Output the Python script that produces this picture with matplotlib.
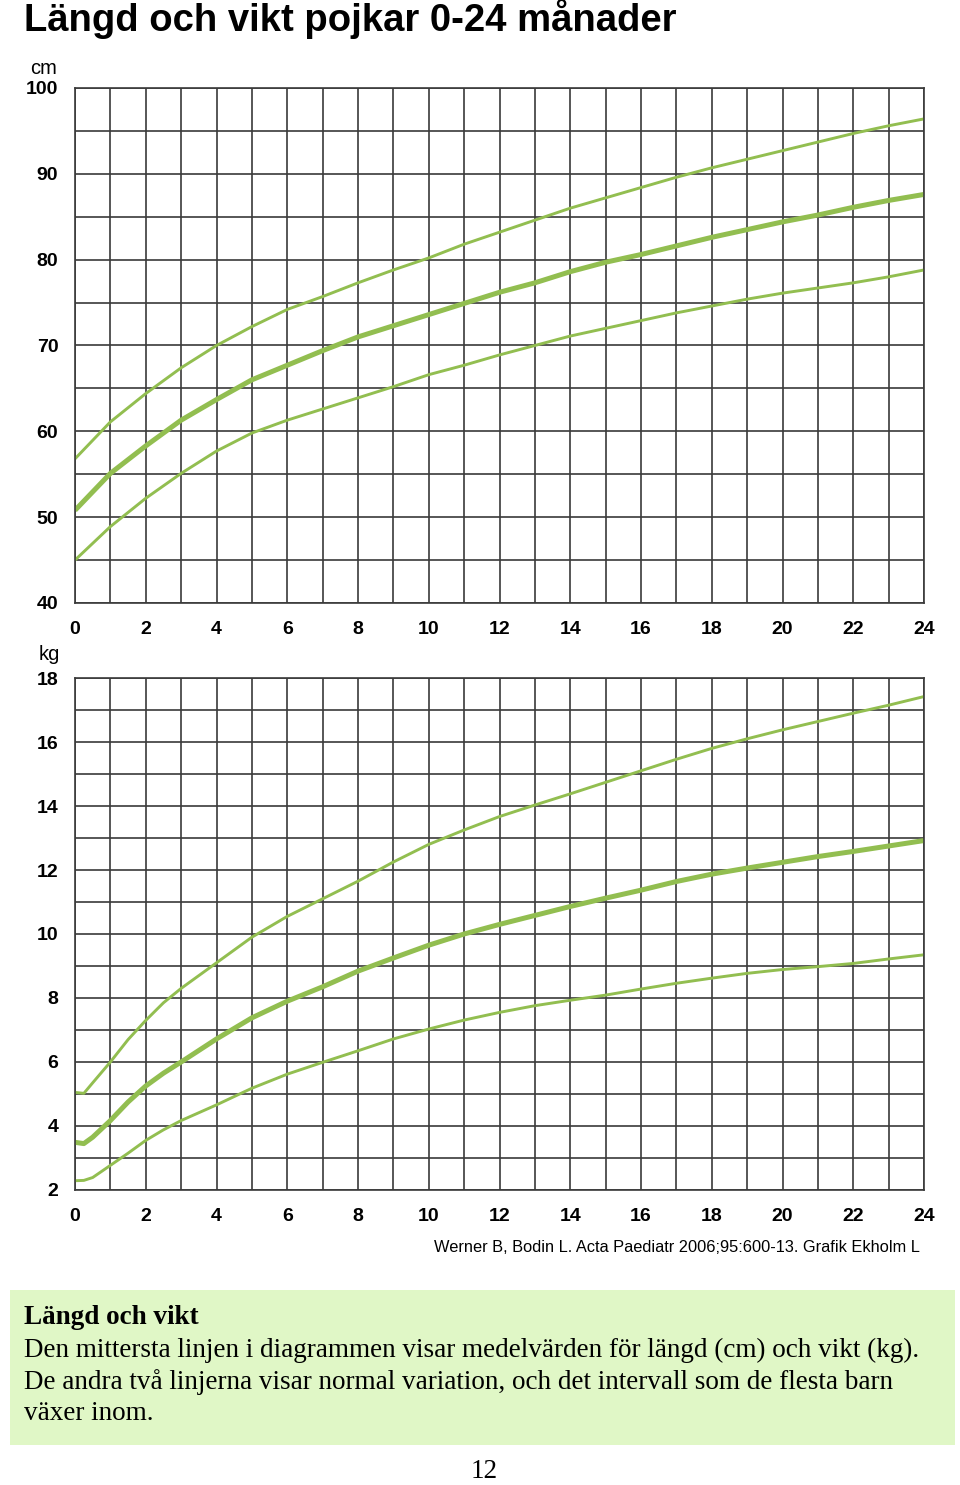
import matplotlib
matplotlib.use("Agg")
from matplotlib import pyplot as plt
from matplotlib.patches import Rectangle

# Data
months_len = list(range(0, 25))
len_upper = [56.8, 61.1, 64.4, 67.4, 70.0, 72.2, 74.2, 75.7, 77.3, 78.8, 80.2, 81.8, 83.2,
             84.6, 86.0, 87.2, 88.4, 89.6, 90.7, 91.7, 92.7, 93.7, 94.7, 95.6, 96.4]
len_mean = [50.8, 55.1, 58.3, 61.3, 63.7, 66.0, 67.7, 69.4, 71.0, 72.3, 73.6, 74.9, 76.2,
            77.3, 78.6, 79.7, 80.6, 81.6, 82.6, 83.5, 84.4, 85.2, 86.1, 86.9, 87.6]
len_lower = [45.0, 48.9, 52.2, 55.1, 57.7, 59.8, 61.3, 62.6, 63.9, 65.2, 66.6, 67.7, 68.9,
             70.0, 71.1, 72.0, 72.9, 73.8, 74.6, 75.4, 76.1, 76.7, 77.3, 78.0, 78.8]

months_wt = [0, 0.25, 0.5, 1, 1.5, 2, 2.5, 3] + list(range(4, 25))
wt_upper = [5.05, 5.02, 5.35, 6.0, 6.7, 7.3, 7.85, 8.3, 9.1, 9.9, 10.55, 11.1, 11.65, 12.25,
            12.8, 13.25, 13.67, 14.03, 14.38, 14.74, 15.1, 15.46, 15.8, 16.1, 16.38, 16.64,
            16.9, 17.15, 17.42]
wt_mean = [3.49, 3.45, 3.65, 4.17, 4.75, 5.25, 5.65, 6.0, 6.72, 7.38, 7.9, 8.35, 8.84, 9.25,
           9.65, 10.0, 10.3, 10.58, 10.86, 11.12, 11.37, 11.64, 11.87, 12.06, 12.24, 12.42,
           12.58, 12.75, 12.92]
wt_lower = [2.29, 2.3, 2.39, 2.77, 3.15, 3.55, 3.88, 4.17, 4.66, 5.18, 5.62, 5.99, 6.35, 6.72,
            7.03, 7.31, 7.55, 7.76, 7.93, 8.09, 8.28, 8.46, 8.62, 8.77, 8.89, 8.98, 9.08,
            9.22, 9.35]

x_ticks = list(range(0, 25, 2))
len_ticks = list(range(40, 101, 10))
wt_ticks = list(range(2, 19, 2))

title = "Längd och vikt pojkar 0-24 månader"
source = "Werner B, Bodin L. Acta Paediatr 2006;95:600-13. Grafik Ekholm L"
box_head = "Längd och vikt"
box_lines = ["Den mittersta linjen i diagrammen visar medelvärden för längd (cm) och vikt (kg).",
             "De andra två linjerna visar normal variation, och det intervall som de flesta barn",
             "växer inom."]

green = "#92be50"
grid_col = "#3a3a3a"

plt.rcParams['font.family'] = ['Liberation Sans', 'DejaVu Sans']

fig = plt.figure(figsize=(9.6, 14.85), dpi=100)
W, H = 960, 1485


def setup(ax, ymin, ymax, ystep, yticks):
    ax.set_xlim(0, 24)
    ax.set_ylim(ymin, ymax)
    ax.set_xticks(range(0, 25), minor=True)
    ax.set_yticks([ymin + i * ystep for i in range(int(round((ymax - ymin) / ystep)) + 1)], minor=True)
    ax.set_xticks(x_ticks)
    ax.set_yticks(yticks)
    ax.grid(True, which='both', color=grid_col, linewidth=1.2)
    ax.set_axisbelow(True)
    ax.tick_params(which='both', length=0)
    ax.tick_params(axis='y', pad=12, labelsize=14)
    ax.tick_params(axis='x', pad=13, labelsize=14)
    for lab in ax.get_xticklabels() + ax.get_yticklabels():
        lab.set_fontweight('bold')
    for s in ax.spines.values():
        s.set_color(grid_col)
        s.set_linewidth(1.2)


# top panel: length
ax1 = fig.add_axes([75 / W, 1 - 603 / H, 849 / W, 515 / H])
setup(ax1, 40, 100, 5, len_ticks)
ax1.plot(months_len, len_upper, color=green, lw=2.1, solid_capstyle='butt')
ax1.plot(months_len, len_mean, color=green, lw=3.6, solid_capstyle='butt')
ax1.plot(months_len, len_lower, color=green, lw=2.1, solid_capstyle='butt')

# bottom panel: weight
ax2 = fig.add_axes([75 / W, 1 - 1190 / H, 849 / W, 512 / H])
setup(ax2, 2, 18, 1, wt_ticks)
ax2.plot(months_wt, wt_upper, color=green, lw=2.1, solid_capstyle='butt')
ax2.plot(months_wt, wt_mean, color=green, lw=3.6, solid_capstyle='butt')
ax2.plot(months_wt, wt_lower, color=green, lw=2.1, solid_capstyle='butt')

# texts
fig.text(24 / W, 1 - 19 / H, title, fontsize=27.5, fontweight='bold', ha='left', va='center')
fig.text(57 / W, 1 - 68 / H, "cm", fontsize=14.5, ha='right', va='center')
fig.text(60 / W, 1 - 655 / H, "kg", fontsize=14.5, ha='right', va='center')
fig.text(920 / W, 1 - 1248 / H, source, fontsize=11.8, ha='right', va='center')

# green info box
fig.patches.append(Rectangle((10 / W, 1 - 1445 / H), 945 / W, 155 / H,
                             transform=fig.transFigure, facecolor='#e0f7c6',
                             edgecolor='none', zorder=0))
serif = ['Liberation Serif', 'DejaVu Serif']
fig.text(24 / W, 1 - 1318 / H, box_head, fontsize=19.5, fontweight='bold', family=serif,
         ha='left', va='center')
for i, line in enumerate(box_lines):
    fig.text(24 / W, 1 - (1350 + i * 32) / H, line, fontsize=19.5, family=serif,
             ha='left', va='center')
fig.text(484 / W, 1 - 1472 / H, "12", fontsize=19.5, family=serif, ha='center', va='center')

fig.savefig('out.png', dpi=100)
